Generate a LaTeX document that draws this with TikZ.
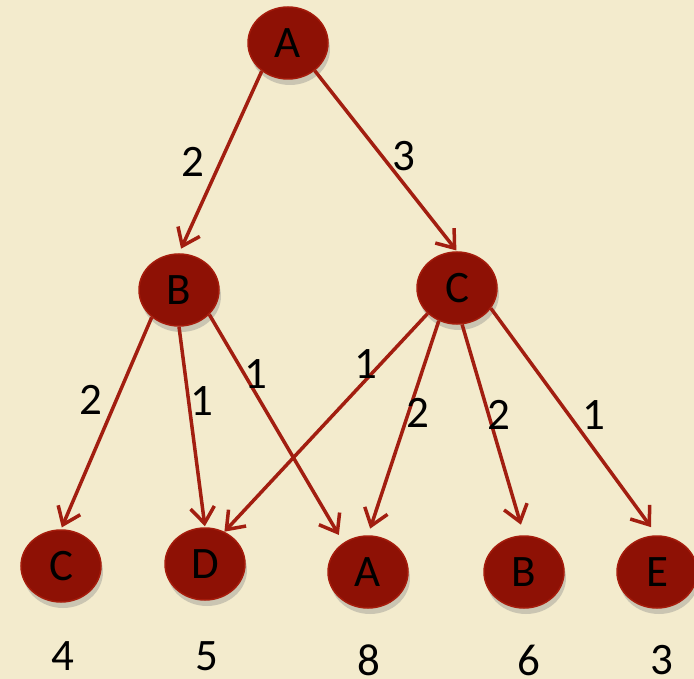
\documentclass[tikz,border=0pt]{standalone}
\usepackage{fontspec}
\setmainfont{Carlito}
\usepackage{tikz}
\usetikzlibrary{arrows.meta,positioning,shapes.geometric,shadows}
\definecolor{paper}{RGB}{243,235,205}
\definecolor{nodered}{RGB}{142,17,5}
\definecolor{rimred}{RGB}{165,28,12}
\definecolor{arrowred}{RGB}{162,30,16}

\begin{document}
\begin{tikzpicture}[x=1pt, y=-1pt,
  >={Straight Barb[length=16pt,width=24pt]},
  every node/.style={font=\fontsize{45}{50}\selectfont},
  vertex/.style={ellipse, fill=nodered, draw=rimred, line width=1.5pt,
    minimum width=80pt, minimum height=72pt, inner sep=0pt,
    drop shadow={shadow xshift=2pt, shadow yshift=-6pt, opacity=0.35}},
  link/.style={->, draw=arrowred, line width=3.5pt},
  lbl/.style={inner sep=0pt, fill=none},
  num/.style={inner sep=0pt}]
\fill[paper] (0,0) rectangle (694,679);
\useasboundingbox (0,0) rectangle (694,679);

\node[vertex] (a) at (288,43) {A};
\node[vertex] (b) at (179,290) {B};
\node[vertex] (c) at (457,288) {C};
\node[vertex] (cb) at (61,566) {C};
\node[vertex] (d) at (205,564) {D};
\node[vertex] (ab) at (368,572) {A};
\node[vertex] (bb) at (524,572) {B};
\node[vertex] (e) at (657,572) {E};

% totals under the leaves
\node[num] (nc) at (63,656) {4};
\node[num] (nd) at (207,656) {5};
\node[num] (na) at (369,660) {8};
\node[num] (nb) at (529,660) {6};
\node[num] (ne) at (662,660) {3};

\draw[link, shorten >=5pt] (a.227) -- node[lbl, pos=0.5, xshift=-27pt] {2} (b.north);
\draw[link, shorten >=1pt] (a.314) -- node[lbl, pos=0.47, xshift=22pt] {3} (c.north);
\draw[link, shorten >=2pt] (b.225) -- node[lbl, pos=0.39, xshift=-25pt] {2} (cb.north);
\draw[link, shorten >=1pt] (b.south) -- node[lbl, pos=0.37, xshift=13pt] {1} (d.north);
\draw[link, shorten >=9pt] (b.321) -- node[lbl, pos=0.26, xshift=12pt] {1} (ab.130);
\draw[link] (c.221) -- node[lbl, pos=0.23, xshift=-15pt] {1} (d.59);
\draw[link, shorten >=7pt] (c.241) -- node[lbl, pos=0.43, xshift=10pt] {2} (ab.north);
\draw[link, shorten >=11pt] (c.278) -- node[lbl, pos=0.43, xshift=10pt] {2} (bb.north);
\draw[link, shorten >=10pt] (c.329) -- node[lbl, pos=0.47, xshift=25pt] {1} (e.north);
\end{tikzpicture}
\end{document}
